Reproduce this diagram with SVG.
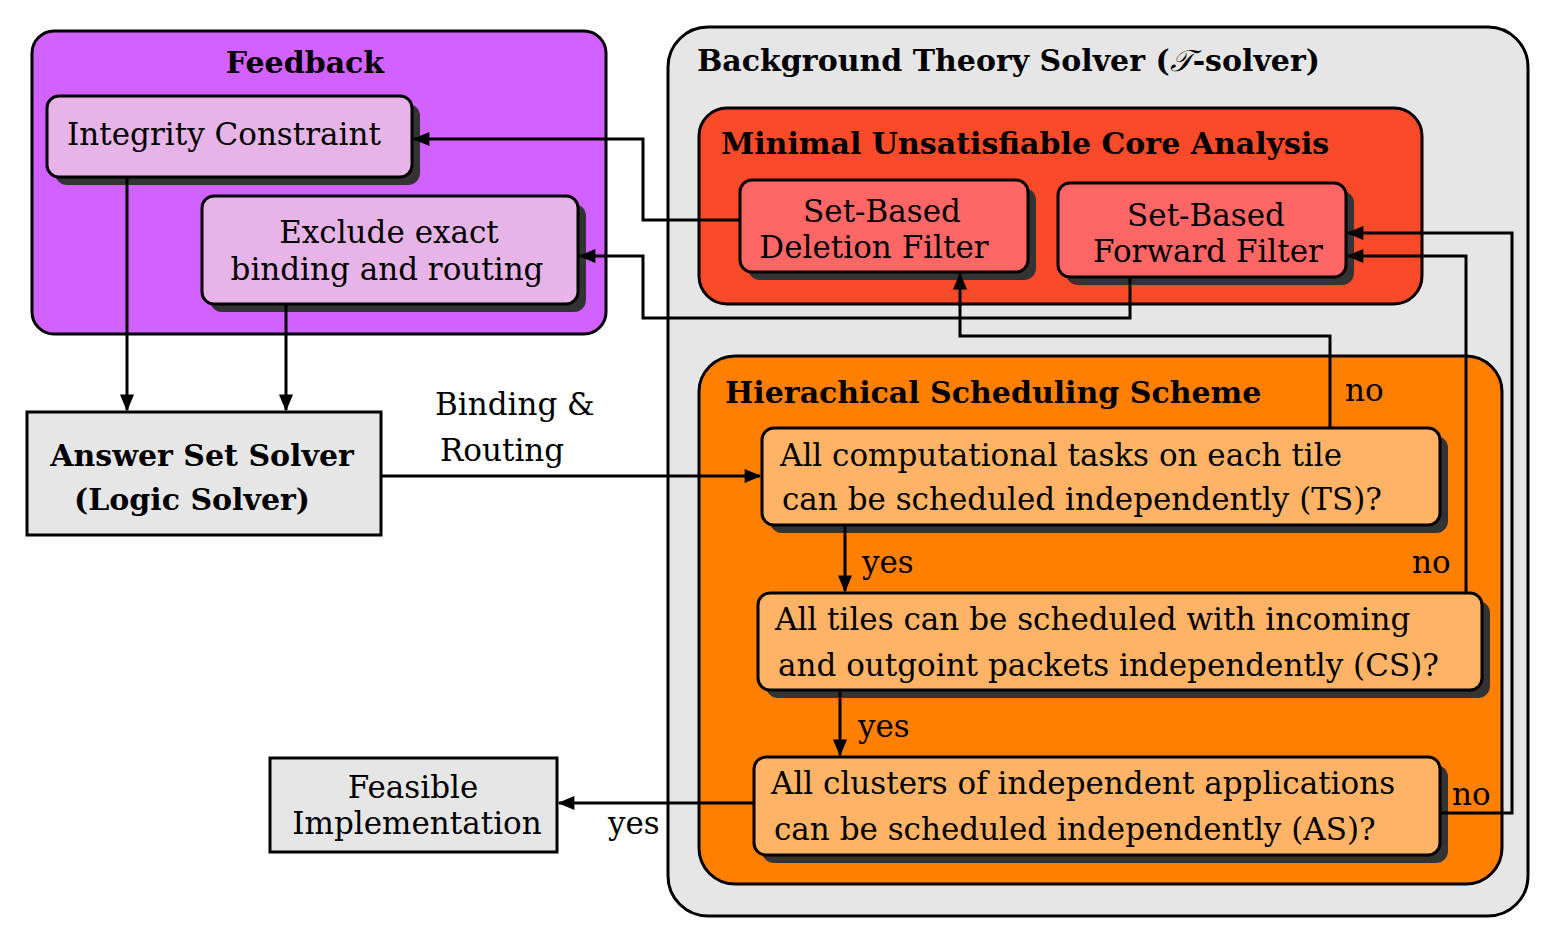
<svg xmlns="http://www.w3.org/2000/svg" width="1542" height="942" viewBox="0 0 1542 942">
<defs>
<marker id="a" viewBox="0 0 12 10" refX="11" refY="5" markerWidth="20" markerHeight="14" orient="auto" markerUnits="userSpaceOnUse"><path d="M0,0 L12,5 L0,10 z" fill="#000"/></marker>
</defs>
<style>
text{font-family:"DejaVu Serif","Liberation Serif",serif;font-size:31px;fill:#000}
.b{font-weight:bold;font-size:30px}
.c{text-anchor:middle}
.box{stroke:#000;stroke-width:3}
.sh{fill:#333}
.ln{fill:none;stroke:#000;stroke-width:3}
</style>
<rect width="1542" height="942" fill="#fff"/>
<g id="feedback">
<rect class="box" x="32" y="31" width="574" height="303" rx="22" fill="#d262ff"/>
<text class="b c" x="305" y="73">Feedback</text>
</g>
<g id="integrity">
<rect class="sh" x="55" y="104" width="365" height="81" rx="12"/>
<rect class="box" x="47" y="96" width="365" height="81" rx="12" fill="#e6b4e6"/>
<text class="c" x="224" y="145">Integrity Constraint</text>
</g>
<g id="exclude">
<rect class="sh" x="210" y="204" width="376" height="108" rx="12"/>
<rect class="box" x="202" y="196" width="376" height="108" rx="12" fill="#e6b4e6"/>
<text class="c" x="389" y="243">Exclude exact</text>
<text class="c" x="387" y="280">binding and routing</text>
</g>
<g id="bts">
<rect class="box" x="668" y="27" width="860" height="889" rx="40" fill="#e6e6e6"/>
<text class="b" x="697" y="71">Background Theory Solver (<tspan font-style="italic" font-weight="normal">𝒯</tspan>-solver)</text>
</g>
<g id="muc">
<rect class="box" x="699" y="108" width="723" height="196" rx="28" fill="#f94a2a"/>
<text class="b" x="721" y="154">Minimal Unsatisfiable Core Analysis</text>
</g>
<g id="deletion">
<rect class="sh" x="748" y="188" width="288" height="92" rx="12"/>
<rect class="box" x="740" y="180" width="288" height="92" rx="12" fill="#ff6666"/>
<text class="c" x="882" y="222">Set-Based</text>
<text class="c" x="874" y="258">Deletion Filter</text>
</g>
<g id="forward">
<rect class="sh" x="1066" y="191" width="288" height="94" rx="12"/>
<rect class="box" x="1058" y="183" width="288" height="94" rx="12" fill="#ff6666"/>
<text class="c" x="1206" y="226">Set-Based</text>
<text class="c" x="1208" y="262">Forward Filter</text>
</g>
<g id="hss">
<rect class="box" x="699" y="356" width="803" height="528" rx="36" fill="#ff8000"/>
<text class="b" x="725" y="403">Hierachical Scheduling Scheme</text>
</g>
<g id="ts">
<rect class="sh" x="770" y="436" width="678" height="97" rx="12"/>
<rect class="box" x="762" y="428" width="678" height="97" rx="12" fill="#ffb366"/>
<text x="780" y="466">All computational tasks on each tile</text>
<text x="782" y="510">can be scheduled independently (TS)?</text>
</g>
<g id="cs">
<rect class="sh" x="766" y="601" width="724" height="97" rx="12"/>
<rect class="box" x="758" y="593" width="724" height="97" rx="12" fill="#ffb366"/>
<text x="775" y="630">All tiles can be scheduled with incoming</text>
<text x="778" y="676">and outgoint packets independently (CS)?</text>
</g>
<g id="as">
<rect class="sh" x="762" y="765" width="686" height="98" rx="12"/>
<rect class="box" x="754" y="757" width="686" height="98" rx="12" fill="#ffb366"/>
<text x="771" y="794">All clusters of independent applications</text>
<text x="774" y="840">can be scheduled independently (AS)?</text>
</g>
<g id="answer">
<rect class="box" x="27" y="412" width="354" height="123" fill="#e6e6e6"/>
<text class="b c" x="202" y="466">Answer Set Solver</text>
<text class="b c" x="192" y="510">(Logic Solver)</text>
</g>
<g id="feasible">
<rect class="box" x="270" y="758" width="287" height="94" fill="#e6e6e6"/>
<text class="c" x="413" y="798">Feasible</text>
<text class="c" x="417" y="834">Implementation</text>
</g>
<g id="connectors">
<path class="ln" marker-end="url(#a)" d="M127,177 V410"/>
<path class="ln" marker-end="url(#a)" d="M286,304 V410"/>
<path class="ln" marker-end="url(#a)" d="M740,220 H643 V139 H414"/>
<path class="ln" marker-end="url(#a)" d="M1130,277 V318 H643 V256 H580"/>
<path class="ln" marker-end="url(#a)" d="M381,476 H760"/>
<path class="ln" marker-end="url(#a)" d="M1330,428 V336 H960 V274"/>
<path class="ln" marker-end="url(#a)" d="M845,525 V591"/>
<path class="ln" marker-end="url(#a)" d="M1466,593 V256 H1348"/>
<path class="ln" marker-end="url(#a)" d="M840,690 V755"/>
<path class="ln" marker-end="url(#a)" d="M1440,813 H1512 V233 H1348"/>
<path class="ln" marker-end="url(#a)" d="M754,803 H559"/>
<text x="435" y="415">Binding &amp;</text>
<text x="440" y="461">Routing</text>
<text x="1345" y="401">no</text>
<text x="862" y="573">yes</text>
<text x="1412" y="573">no</text>
<text x="858" y="737">yes</text>
<text x="1452" y="805">no</text>
<text x="608" y="834">yes</text>
</g>
</svg>
